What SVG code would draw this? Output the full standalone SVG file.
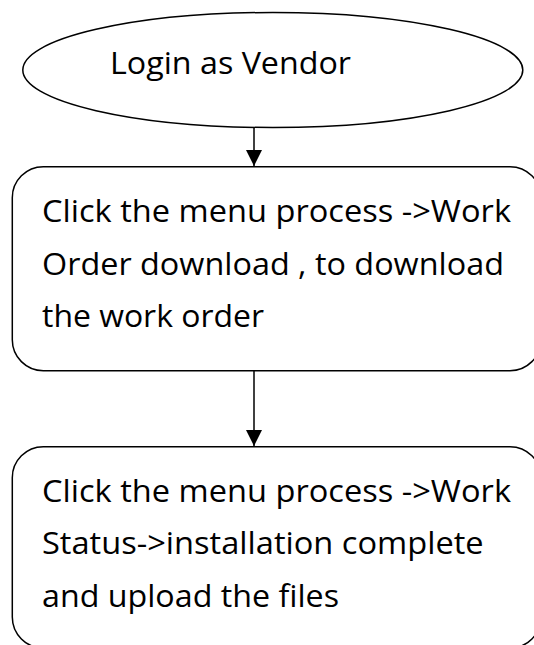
<svg xmlns="http://www.w3.org/2000/svg" width="534" height="645" viewBox="0 0 534 645">
  <style>
    .shape { fill: #ffffff; stroke: #000000; stroke-width: 1.5; }
    .conn { stroke: #000000; stroke-width: 1.5; fill: none; }
    .lbl { font-family: "Open Sans", "Noto Sans", "Liberation Sans", sans-serif; font-size: 31px; fill: #000000; }
  </style>
  <defs>
    <marker id="arrow" markerUnits="userSpaceOnUse" markerWidth="16" markerHeight="16" viewBox="0 0 16 16" refX="16" refY="8" orient="auto">
      <path d="M0,0 L16,8 L0,16 Z" fill="#000000"/>
    </marker>
  </defs>
  <rect width="534" height="645" fill="#ffffff"/>
  <g id="connectors">
    <line class="conn" x1="254" y1="128" x2="254" y2="166" marker-end="url(#arrow)"/>
    <line class="conn" x1="254" y1="371" x2="254" y2="446" marker-end="url(#arrow)"/>
  </g>
  <g id="node-login">
    <ellipse class="shape" cx="272.8" cy="70" rx="250" ry="57.5"/>
    <text class="lbl" x="110" y="73.6" textLength="241" lengthAdjust="spacingAndGlyphs">Login as Vendor</text>
  </g>
  <g id="node-download">
    <rect class="shape" x="12.3" y="166.7" width="528.7" height="204" rx="31" ry="31"/>
    <text class="lbl" x="42" y="222" textLength="469" lengthAdjust="spacingAndGlyphs">Click the menu process -&gt;Work</text>
    <text class="lbl" x="42" y="274.5" textLength="462" lengthAdjust="spacingAndGlyphs">Order download , to download</text>
    <text class="lbl" x="42" y="327" textLength="222" lengthAdjust="spacingAndGlyphs">the work order</text>
  </g>
  <g id="node-upload">
    <rect class="shape" x="12.3" y="446.7" width="528.7" height="201.3" rx="31" ry="31"/>
    <text class="lbl" x="42" y="501.7" textLength="469" lengthAdjust="spacingAndGlyphs">Click the menu process -&gt;Work</text>
    <text class="lbl" x="42" y="554.2" textLength="441.6" lengthAdjust="spacingAndGlyphs">Status-&gt;installation complete</text>
    <text class="lbl" x="42" y="606.7" textLength="297" lengthAdjust="spacingAndGlyphs">and upload the files</text>
  </g>
</svg>
